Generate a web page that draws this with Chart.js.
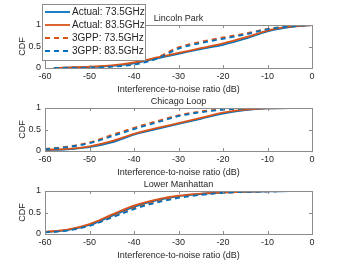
<!DOCTYPE html>
<html>
<head>
<meta charset="utf-8">
<script src="https://cdn.jsdelivr.net/npm/chart.js@4.4.1/dist/chart.umd.min.js"></script>
<style>
  body { margin: 0; background: #fff; }
  #wrap { position: relative; width: 346px; height: 275px; }
  canvas { position: absolute; left: 0; }
</style>
</head>
<body>
<div id="wrap">
  <canvas id="c0" width="346" height="100" style="top:0px"></canvas>
  <canvas id="c1" width="346" height="100" style="top:83px"></canvas>
  <canvas id="c2" width="346" height="100" style="top:166px"></canvas>
</div>
<script>
// series names (legend order)
const seriesNames = ['Actual: 73.5GHz', 'Actual: 83.5GHz', '3GPP: 73.5GHz', '3GPP: 83.5GHz'];
const panelTitles = ['Lincoln Park', 'Chicago Loop', 'Lower Manhattan'];

// INR grid (dB)
const inrLincoln = [-58, -55, -50, -45, -40, -35, -30, -25, -20, -15, -10, -5, 0];
const inrGrid = [-60, -55, -50, -45, -40, -35, -30, -25, -20, -15, -10, -5, 0];

// Lincoln Park CDFs
const lincolnActual735 = [0, 0.01, 0.02, 0.05, 0.11, 0.22, 0.33, 0.44, 0.54, 0.68, 0.85, 0.95, 1];
const lincolnActual835 = [0, 0.01, 0.03, 0.06, 0.13, 0.24, 0.35, 0.46, 0.57, 0.71, 0.87, 0.96, 1];
const lincoln3gpp735 = [0, 0.01, 0.02, 0.04, 0.10, 0.24, 0.48, 0.61, 0.71, 0.80, 0.91, 0.97, 1];
const lincoln3gpp835 = [0, 0, 0.01, 0.03, 0.08, 0.21, 0.45, 0.58, 0.68, 0.78, 0.90, 0.97, 1];

// Chicago Loop CDFs
const chicagoActual735 = [0.02, 0.04, 0.09, 0.20, 0.38, 0.51, 0.63, 0.75, 0.87, 0.95, 0.99, 1, 1];
const chicagoActual835 = [0.03, 0.05, 0.11, 0.23, 0.40, 0.53, 0.65, 0.77, 0.89, 0.96, 0.99, 1, 1];
const chicago3gpp735 = [0.05, 0.10, 0.20, 0.37, 0.54, 0.69, 0.83, 0.92, 0.97, 0.99, 1, 1, 1];
const chicago3gpp835 = [0.04, 0.09, 0.18, 0.34, 0.51, 0.66, 0.81, 0.90, 0.96, 0.99, 1, 1, 1];

// Lower Manhattan CDFs
const manhattanActual735 = [0.04, 0.09, 0.21, 0.42, 0.63, 0.78, 0.88, 0.93, 0.965, 0.98, 0.99, 1, 1];
const manhattanActual835 = [0.05, 0.10, 0.23, 0.45, 0.66, 0.80, 0.89, 0.94, 0.97, 0.985, 0.995, 1, 1];
const manhattan3gpp735 = [0.04, 0.09, 0.20, 0.40, 0.60, 0.75, 0.86, 0.92, 0.96, 0.98, 0.99, 1, 1];
const manhattan3gpp835 = [0.04, 0.08, 0.19, 0.38, 0.58, 0.73, 0.84, 0.91, 0.955, 0.98, 0.99, 1, 1];

const xTickStep = 10;
const yTickStep = 0.5;

const blue = '#0072BD';
const orange = '#D95319';
const textColor = '#262626';
const axisColor = '#8c8c8c';
const family = '"Liberation Sans", Arial, sans-serif';

function pts(xs, ys) {
  return xs.map((x, i) => ({ x: x, y: ys[i] }));
}

function makeDatasets(xs, a735, a835, g735, g835) {
  const styles = [
    { borderColor: blue, borderDash: [] },
    { borderColor: orange, borderDash: [] },
    { borderColor: orange, borderDash: [5, 4] },
    { borderColor: blue, borderDash: [5, 4] }
  ];
  return [a735, a835, g735, g835].map((ys, i) => ({
    label: seriesNames[i],
    data: pts(xs, ys),
    borderColor: styles[i].borderColor,
    borderDash: styles[i].borderDash,
    borderWidth: 1.8,
    pointRadius: 0,
    cubicInterpolationMode: 'monotone',
    fill: false,
    order: 4 - i
  }));
}

// box round the axes, with short inward ticks like the original
const boxPlugin = {
  id: 'axesBox',
  afterDatasetsDraw(chart) {
    const { ctx, chartArea: a, scales: { x, y } } = chart;
    ctx.save();
    ctx.strokeStyle = axisColor;
    ctx.lineWidth = 1;
    ctx.strokeRect(Math.round(a.left) + 0.5, Math.round(a.top) + 0.5, Math.round(a.width), Math.round(a.height));
    ctx.beginPath();
    x.ticks.forEach(t => {
      const px = Math.round(x.getPixelForValue(t.value)) + 0.5;
      ctx.moveTo(px, a.bottom); ctx.lineTo(px, a.bottom - 3);
      ctx.moveTo(px, a.top); ctx.lineTo(px, a.top + 3);
    });
    y.ticks.forEach(t => {
      const py = Math.round(y.getPixelForValue(t.value)) + 0.5;
      ctx.moveTo(a.left, py); ctx.lineTo(a.left + 3, py);
      ctx.moveTo(a.right, py); ctx.lineTo(a.right - 3, py);
    });
    ctx.stroke();
    ctx.restore();
  }
};

// boxed legend in the top-left corner of the first panel
const legendPlugin = {
  id: 'boxLegend',
  afterDraw(chart) {
    const ctx = chart.ctx;
    ctx.save();
    ctx.fillStyle = '#fff';
    ctx.fillRect(42.5, 4.5, 103, 56);
    ctx.strokeStyle = axisColor;
    ctx.lineWidth = 1;
    ctx.strokeRect(42.5, 4.5, 103, 56);
    ctx.font = '10px ' + family;
    ctx.textBaseline = 'middle';
    chart.data.datasets.forEach((ds, i) => {
      const yy = 12 + i * 13;
      ctx.strokeStyle = ds.borderColor;
      ctx.lineWidth = 1.8;
      ctx.setLineDash(ds.borderDash);
      ctx.beginPath();
      ctx.moveTo(45, yy);
      ctx.lineTo(70, yy);
      ctx.stroke();
      ctx.setLineDash([]);
      ctx.fillStyle = textColor;
      ctx.fillText(ds.label, 72, yy);
    });
    ctx.restore();
  }
};

function makeOptions(title) {
  const font = { size: 9, family: family };
  return {
    responsive: false,
    animation: false,
    layout: { padding: { top: 13.6, right: 34, bottom: 5, left: 0 } },
    plugins: {
      legend: { display: false },
      tooltip: { enabled: false },
      title: {
        display: true, text: title, fullSize: false, color: textColor,
        font: { size: 9, family: family, weight: 'normal' },
        padding: { top: 0, bottom: 0.6 }
      }
    },
    scales: {
      x: {
        type: 'linear', min: -60, max: 0,
        ticks: { stepSize: xTickStep, color: textColor, font: font, padding: 3.6 },
        grid: { display: false, drawTicks: false },
        border: { display: false },
        title: { display: true, text: 'Interference-to-noise ratio (dB)', color: textColor, font: font, padding: 0 },
        afterFit: s => { s.height = 27; }
      },
      y: {
        min: 0, max: 1,
        ticks: { stepSize: yTickStep, color: textColor, font: font, padding: 4, callback: v => String(v) },
        grid: { display: false, drawTicks: false },
        border: { display: false },
        title: { display: true, text: 'CDF', color: textColor, font: font, padding: { top: 17, bottom: 0 } },
        afterFit: s => { s.width = 45; }
      }
    }
  };
}

new Chart(document.getElementById('c0'), {
  type: 'line',
  data: { datasets: makeDatasets(inrLincoln, lincolnActual735, lincolnActual835, lincoln3gpp735, lincoln3gpp835) },
  options: makeOptions(panelTitles[0]),
  plugins: [boxPlugin, legendPlugin]
});

new Chart(document.getElementById('c1'), {
  type: 'line',
  data: { datasets: makeDatasets(inrGrid, chicagoActual735, chicagoActual835, chicago3gpp735, chicago3gpp835) },
  options: makeOptions(panelTitles[1]),
  plugins: [boxPlugin]
});

new Chart(document.getElementById('c2'), {
  type: 'line',
  data: { datasets: makeDatasets(inrGrid, manhattanActual735, manhattanActual835, manhattan3gpp735, manhattan3gpp835) },
  options: makeOptions(panelTitles[2]),
  plugins: [boxPlugin]
});
</script>
</body>
</html>
